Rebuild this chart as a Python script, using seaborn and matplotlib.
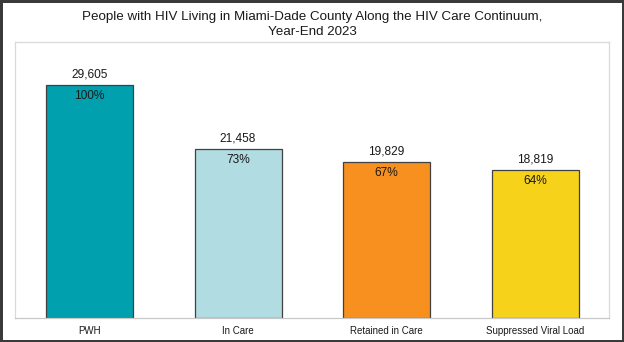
import matplotlib
matplotlib.use("Agg")
import matplotlib.pyplot as plt
import seaborn as sns
import pandas as pd

# values
stages = ["PWH", "In Care", "Retained in Care", "Suppressed Viral Load"]
people = [29605, 21458, 19829, 18819]
pct_labels = ["100%", "73%", "67%", "64%"]
bar_colors = ["#00A0AF", "#B0DCE2", "#F7901F", "#F6D31A"]

df = pd.DataFrame({"stage": stages, "people": people})

sns.set_style("white")
plt.rcParams["font.family"] = ["Liberation Sans", "DejaVu Sans"]

fig = plt.figure(figsize=(6.24, 3.42), dpi=100, linewidth=2.5, edgecolor="#3a3a3a")
ax = fig.add_axes([0.0245, 0.0711, 0.952, 0.805])

sns.barplot(data=df, x="stage", y="people", hue="stage", palette=bar_colors,
            saturation=1, width=0.586, edgecolor="#404040", linewidth=0.9,
            legend=False, ax=ax)

ax.set_ylim(0, 35000)
ax.set_xlim(-0.5, 3.5)
ax.set_yticks([])
ax.set_xlabel("")
ax.set_ylabel("")

for sp in ax.spines.values():
    sp.set_color("#d9d9d9")
    sp.set_linewidth(0.9)
ax.spines["bottom"].set_color("#c8c8c8")

# labels above and inside bars
for i, (v, p) in enumerate(zip(people, pct_labels)):
    ax.annotate(f"{v:,}", (i, v), xytext=(0, 7.5), textcoords="offset points",
                ha="center", va="center", fontsize=8.6, color="#1a1a1a")
    ax.annotate(p, (i, v), xytext=(0, -8), textcoords="offset points",
                ha="center", va="center", fontsize=8.6, color="#1a1a1a")

# category labels, tick marks at boundaries
ax.tick_params(axis="x", which="major", length=0, labelsize=7, pad=6, labelcolor="#1a1a1a")
ax.set_xticks([-0.5, 0.5, 1.5, 2.5, 3.5], minor=True)
ax.tick_params(axis="x", which="minor", length=3.5, color="#c8c8c8", width=0.9)

fig.suptitle("People with HIV Living in Miami-Dade County Along the HIV Care Continuum,\nYear-End 2023",
             y=0.967, fontsize=9.6, color="#1a1a1a", linespacing=1.25)

fig.savefig("out.png", dpi=100)
